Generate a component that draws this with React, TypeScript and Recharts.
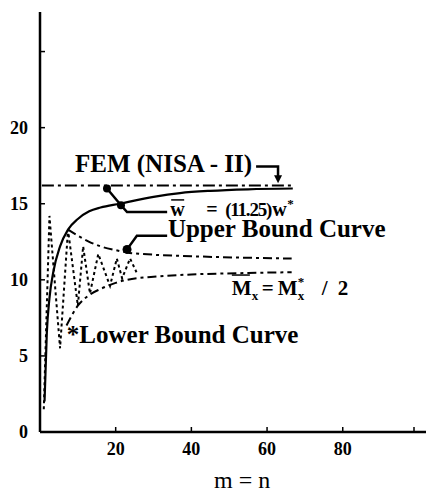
import React from "react";
import { ComposedChart, Line, XAxis, YAxis, ReferenceDot } from "recharts";

const FONT = "'Liberation Serif', 'Times New Roman', serif";

// FEM (NISA - II) level
const femM = [0.5, 67];
const femValue = 16.2;

// w-bar = (11.25) w*
const wM = [1.2, 1.8, 2.5, 3.5, 5.3, 7.4, 10, 13, 16, 21, 30, 37, 45, 55, 66.8];
const wV = [2.0, 6.5, 8.8, 10.5, 12.2, 13.3, 14.0, 14.5, 14.75, 15.0, 15.45, 15.7, 15.85, 15.95, 16.0];

// oscillating M-bar values (dotted)
const oscM = [1.0, 2.5, 5.3, 7.4, 10.0, 11.4, 13.2, 15.4, 18.5, 20.3, 21.7, 23.8, 25.5];
const oscV = [1.5, 14.2, 5.5, 13.3, 8.3, 12.2, 9.1, 11.7, 9.6, 11.4, 10.1, 11.4, 10.5];

// bound curves
const upperM = [7.4, 10, 13, 16, 20, 23, 30, 40, 55, 66.5];
const upperV = [13.3, 12.9, 12.5, 12.2, 11.95, 11.8, 11.65, 11.55, 11.45, 11.4];
const lowerM = [7, 10, 13, 16, 20, 23, 30, 40, 55, 66.5];
const lowerV = [7.0, 8.3, 9.0, 9.4, 9.8, 10.0, 10.2, 10.35, 10.45, 10.5];

const xTicks = [20, 40, 60, 80, 100];
const xTickLabels = ["20", "40", "60", "80", ""];
const yTicks = [0, 5, 10, 15, 20, 25];
const yTickLabels = ["0", "5", "10", "15", "20", ""];

// leader lines (data space)
const femLeader = [[57.1, 17.45], [62.9, 17.45], [62.9, 16.7]];
const wLeader = [[17.7, 16.0], [21.4, 14.9], [23.0, 14.45], [33.6, 14.45]];
const upperLeader = [[23.0, 12.0], [25.6, 12.9], [33.6, 12.9]];

const rows = (ms: number[], vs: number[]) => ms.map((m, i) => ({ m, v: vs[i] }));
const pts = (p: number[][]) => p.map(([m, v]) => ({ m, v }));

const femData = femM.map((m) => ({ m, v: femValue }));

const YTick = (props: any) => {
  const { x, y, payload } = props;
  const i = yTicks.indexOf(payload.value);
  return (
    <g>
      <line x1={x} y1={y} x2={x + 5} y2={y} stroke="#000" strokeWidth={1.5} />
      <text x={x - 12} y={y + 6} textAnchor="end" fontFamily={FONT} fontSize={18} fontWeight="bold" fill="#000">
        {yTickLabels[i]}
      </text>
    </g>
  );
};

const XTick = (props: any) => {
  const { x, y, payload } = props;
  const i = xTicks.indexOf(payload.value);
  return (
    <g>
      <line x1={x} y1={y} x2={x} y2={y - 5} stroke="#000" strokeWidth={1.5} />
      <text x={x} y={y + 23} textAnchor="middle" fontFamily={FONT} fontSize={18} fontWeight="bold" fill="#000">
        {xTickLabels[i]}
      </text>
    </g>
  );
};

const bold = { fontFamily: FONT, fontWeight: "bold" as const, fill: "#000" };

const FemLabel = ({ cx, cy }: any) => (
  <text x={cx} y={cy} fontSize={25} {...bold}>FEM (NISA - II)</text>
);

const WLabel = ({ cx, cy }: any) => (
  <g>
    <line x1={cx + 1} y1={cy - 16} x2={cx + 14} y2={cy - 16} stroke="#000" strokeWidth={1.5} />
    <text x={cx} y={cy} fontSize={20} {...bold}>
      <tspan>w</tspan>
      <tspan x={cx + 36}>=</tspan>
      <tspan x={cx + 55} fontSize={19} letterSpacing={-1.2}>(11.25)</tspan>
      <tspan x={cx + 102}>w</tspan>
      <tspan x={cx + 117} dy={-8} fontSize={13}>*</tspan>
    </text>
  </g>
);

const UpperLabel = ({ cx, cy }: any) => (
  <text x={cx} y={cy} fontSize={25} {...bold}>Upper Bound Curve</text>
);

const MLabel = ({ cx, cy }: any) => (
  <g>
    <line x1={cx} y1={cy - 20} x2={cx + 18} y2={cy - 20} stroke="#000" strokeWidth={1.5} />
    <text x={cx} y={cy} fontSize={21} {...bold}>
      <tspan>M</tspan>
      <tspan x={cx + 20} dy={5} fontSize={13}>x</tspan>
      <tspan x={cx + 30} dy={-5}>=</tspan>
      <tspan x={cx + 46}>M</tspan>
      <tspan x={cx + 66} dy={-9} fontSize={13}>*</tspan>
      <tspan x={cx + 66} dy={14} fontSize={13}>x</tspan>
      <tspan x={cx + 90} dy={-5}>/</tspan>
      <tspan x={cx + 106}>2</tspan>
    </text>
  </g>
);

const LowerLabel = ({ cx, cy }: any) => (
  <text x={cx} y={cy} fontSize={25} {...bold}>*Lower Bound Curve</text>
);

const AxisTitle = ({ cx, cy }: any) => (
  <text x={cx} y={cy} textAnchor="middle" fontFamily={FONT} fontSize={24} fill="#000">m = n</text>
);

const DownArrow = ({ cx, cy }: any) => (
  <polygon points={`${cx - 4},${cy - 5} ${cx + 4},${cy - 5} ${cx},${cy + 3}`} fill="#000" />
);

// label anchors in data space
const labels = [
  { m: 9.25, v: 17.1, shape: FemLabel },
  { m: 34.4, v: 14.2, shape: WLabel },
  { m: 33.8, v: 12.8, shape: UpperLabel },
  { m: 50.7, v: 9.0, shape: MLabel },
  { m: 7.1, v: 5.86, shape: LowerLabel },
  { m: 53.4, v: -3.65, shape: AxisTitle },
];

const leaderStyle = { stroke: "#000", strokeWidth: 2.5, dot: false, isAnimationActive: false, type: "linear" as const };

export default function App() {
  return (
    <div style={{ position: "absolute", left: 0, top: 0, width: 426, height: 492, background: "#fff" }}>
      <ComposedChart width={426} height={492} margin={{ top: 12, right: 0, left: 0, bottom: 0 }}>
        <XAxis
          dataKey="m"
          type="number"
          domain={[0, 102]}
          ticks={xTicks}
          height={60}
          tickSize={0}
          tickMargin={0}
          tick={<XTick />}
          axisLine={{ stroke: "#000", strokeWidth: 2.5 }}
          allowDataOverflow
        />
        <YAxis
          type="number"
          domain={[0, 27.6]}
          ticks={yTicks}
          width={40}
          tickSize={0}
          tickMargin={0}
          tick={<YTick />}
          axisLine={{ stroke: "#000", strokeWidth: 2.5 }}
          allowDataOverflow
        />

        <Line data={femData} dataKey="v" type="linear" stroke="#000" strokeWidth={2} strokeDasharray="12 4 3 4" dot={false} isAnimationActive={false} />
        <Line data={rows(oscM, oscV)} dataKey="v" type="linear" stroke="#000" strokeWidth={2} strokeDasharray="3 3" dot={false} isAnimationActive={false} />
        <Line data={rows(upperM, upperV)} dataKey="v" type="monotone" stroke="#000" strokeWidth={2} strokeDasharray="9 4 3 4" dot={false} isAnimationActive={false} />
        <Line data={rows(lowerM, lowerV)} dataKey="v" type="monotone" stroke="#000" strokeWidth={2} strokeDasharray="9 4 3 4" dot={false} isAnimationActive={false} />
        <Line data={rows(wM, wV)} dataKey="v" type="monotone" stroke="#000" strokeWidth={2.2} dot={false} isAnimationActive={false} />

        <Line data={pts(femLeader)} dataKey="v" {...leaderStyle} />
        <Line data={pts(wLeader)} dataKey="v" {...leaderStyle} />
        <Line data={pts(upperLeader)} dataKey="v" {...leaderStyle} />

        <ReferenceDot x={wLeader[0][0]} y={wLeader[0][1]} r={4} fill="#000" stroke="none" ifOverflow="visible" />
        <ReferenceDot x={wLeader[1][0]} y={wLeader[1][1]} r={4} fill="#000" stroke="none" ifOverflow="visible" />
        <ReferenceDot x={upperLeader[0][0]} y={upperLeader[0][1]} r={4.5} fill="#000" stroke="none" ifOverflow="visible" />
        <ReferenceDot x={femLeader[2][0]} y={femLeader[2][1] - 0.15} r={1} ifOverflow="visible" shape={DownArrow} />

        {labels.map((l, i) => (
          <ReferenceDot key={i} x={l.m} y={l.v} r={1} ifOverflow="visible" shape={l.shape} />
        ))}
      </ComposedChart>
    </div>
  );
}
